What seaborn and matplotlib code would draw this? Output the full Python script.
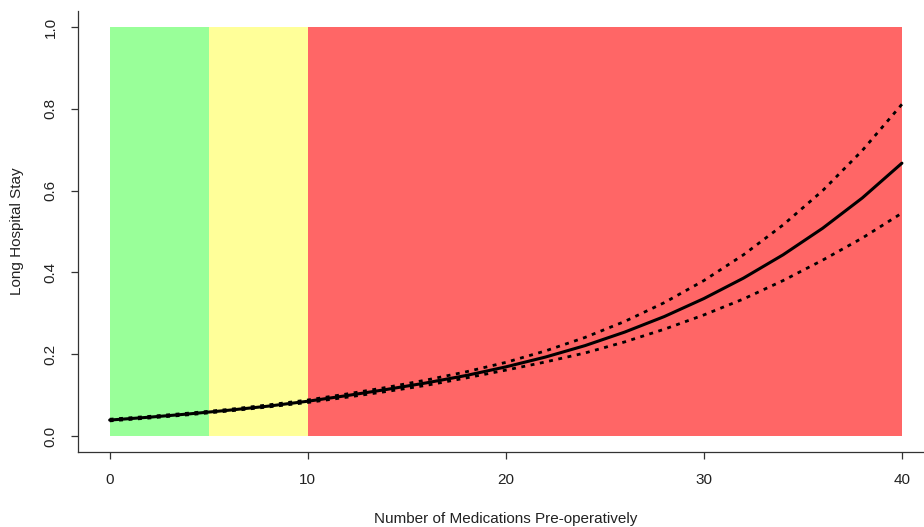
import matplotlib
matplotlib.use("Agg")
import matplotlib.pyplot as plt
import seaborn as sns
import pandas as pd

# ── Datos ───────────────────────────────────────────────────────────────────
n_meds = [0, 2, 4, 6, 8, 10, 12, 14, 16, 18, 20, 22, 24, 26, 28, 30, 32, 34, 36, 38, 40]
prob_fit = [0.039, 0.046, 0.054, 0.063, 0.073, 0.085, 0.099, 0.114, 0.130, 0.148, 0.169,
            0.193, 0.221, 0.254, 0.292, 0.336, 0.386, 0.443, 0.508, 0.582, 0.667]
prob_upper = [0.041, 0.048, 0.056, 0.065, 0.076, 0.088, 0.103, 0.119, 0.137, 0.157, 0.180,
              0.208, 0.241, 0.280, 0.326, 0.380, 0.443, 0.516, 0.600, 0.698, 0.811]
prob_lower = [0.037, 0.044, 0.052, 0.061, 0.071, 0.082, 0.095, 0.109, 0.124, 0.142, 0.161,
              0.181, 0.203, 0.230, 0.261, 0.296, 0.335, 0.380, 0.430, 0.484, 0.545]

zone_start = [0, 5, 10]
zone_end = [5, 10, 40]
zone_colors = ["#99ff99", "#ffff99", "#ff6666"]

x_ticks = [0, 10, 20, 30, 40]
y_ticks = [0.0, 0.2, 0.4, 0.6, 0.8, 1.0]

df = pd.DataFrame({"x": n_meds, "fit": prob_fit, "upper": prob_upper, "lower": prob_lower})

sns.set_style("ticks")
plt.rcParams["font.family"] = ["Liberation Sans", "DejaVu Sans"]

fig = plt.figure(figsize=(9.24, 5.27), dpi=100)
ax = fig.add_axes([0.0844, 0.1416, 0.926, 0.8383])

# Zonas de color
for x0, x1, c in zip(zone_start, zone_end, zone_colors):
    ax.fill_between([x0, x1], 0, 1, color=c, linewidth=0, zorder=1)

# Curva ajustada + intervalos
sns.lineplot(data=df, x="x", y="fit", color="black", linewidth=2.2, ax=ax, zorder=3)
for col in ["upper", "lower"]:
    sns.lineplot(data=df, x="x", y=col, color="black", linewidth=2.0,
                 linestyle=(0, (1.4, 2.0)), ax=ax, zorder=4)

ax.set_xlim(-1.6, 41.6)
ax.set_ylim(-0.04, 1.04)
ax.set_xticks(x_ticks)
ax.set_xticklabels([str(t) for t in x_ticks])
ax.set_yticks(y_ticks)
ax.set_yticklabels([f"{t:.1f}" for t in y_ticks], rotation=90, va="center")

ax.tick_params(axis="both", direction="out", length=5, width=0.9, color="#333333",
               labelsize=11, pad=9.5, labelcolor="#222222")
sns.despine(ax=ax)
for s in ["left", "bottom"]:
    ax.spines[s].set_color("#333333")
    ax.spines[s].set_linewidth(0.9)

ax.set_xlabel("Number of Medications Pre-operatively", fontsize=11, color="#222222", labelpad=18)
ax.set_ylabel("Long Hospital Stay", fontsize=11, color="#222222", labelpad=14)

plt.savefig("out.png", dpi=100)
plt.close()
